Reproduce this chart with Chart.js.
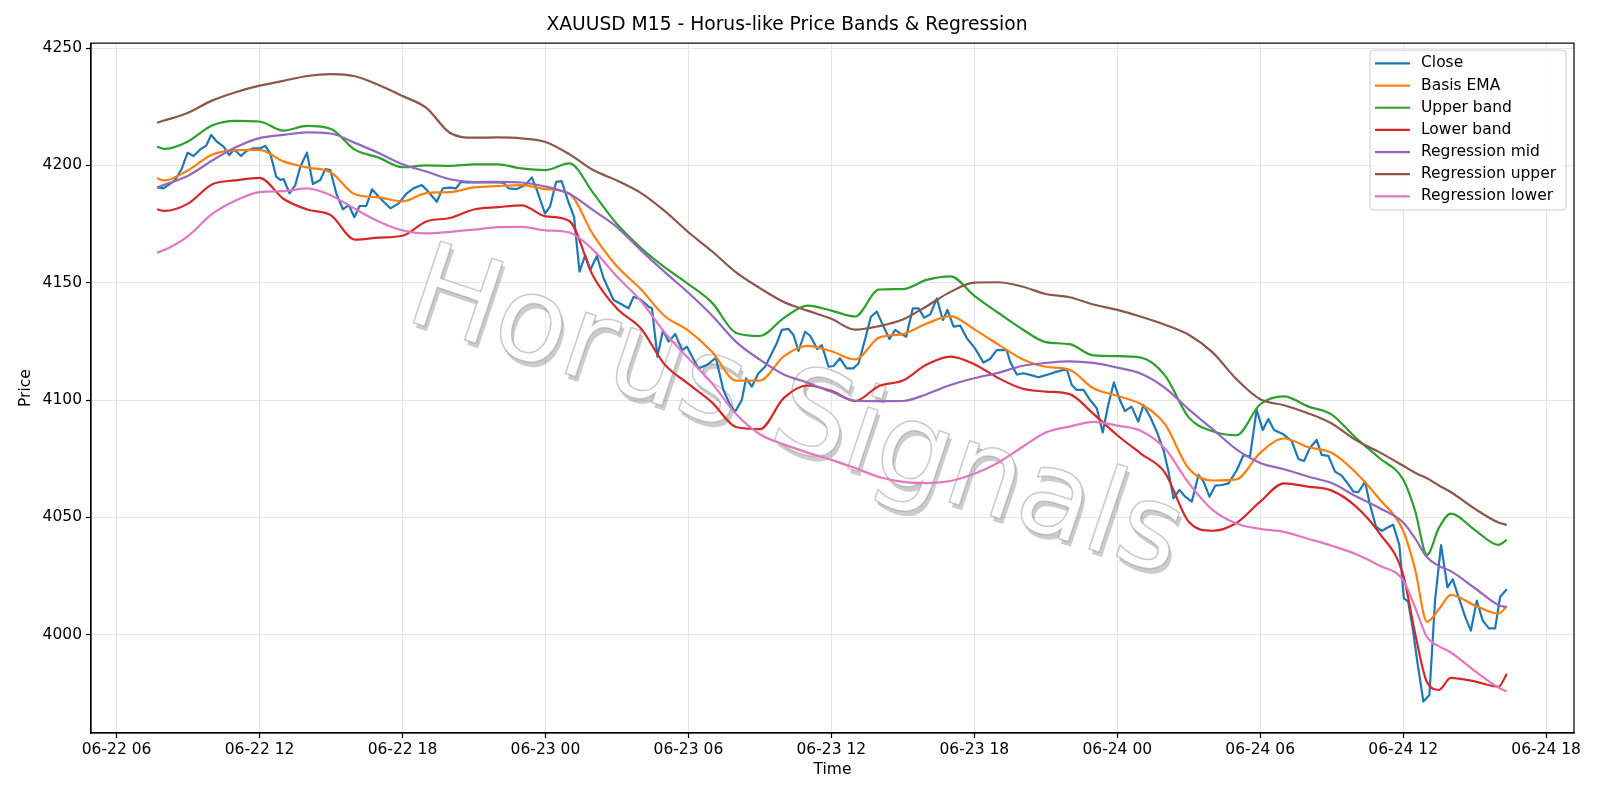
<!DOCTYPE html>
<html>
<head>
<meta charset="utf-8">
<title>XAUUSD M15</title>
<script src="https://cdn.jsdelivr.net/npm/chart.js@4.4.1/dist/chart.umd.min.js"></script>
<style>
  html, body { margin: 0; padding: 0; background: #fff; }
</style>
</head>
<body>
<canvas id="chart" width="1600" height="800"></canvas>
<script>
// all times are hours counted from 06-22 00:00
const bandHours = [7.7, 8, 9, 10, 11, 12, 13, 14, 15, 16, 17, 18, 19, 20, 21, 22, 23, 24, 25, 26, 27, 28, 29, 30,
	31, 32, 33, 34, 35, 36, 37, 38, 39, 40, 41, 42, 43, 44, 45, 46, 47, 48, 49, 50, 51, 52, 53, 54, 55, 56, 57, 58,
	59, 60, 60.5, 61, 61.5, 62, 63, 64, 64.35];

const basisEma = [4194.5, 4193.6, 4197.9, 4204.5, 4206.5, 4206.6, 4201.7, 4199.1, 4197.0, 4187.7, 4186.4, 4184.7,
	4188.2, 4188.6, 4190.6, 4191.2, 4191.6, 4189.9, 4188.0, 4170.5, 4157.0, 4147.3, 4135.8, 4129.6, 4120.5, 4108.3,
	4108.3, 4118.6, 4123.1, 4120.8, 4117.3, 4126.6, 4128.1, 4132.6, 4135.8, 4130.1, 4123.7, 4117.5, 4114.2, 4112.9,
	4105.0, 4101.8, 4098.2, 4089.7, 4070.8, 4065.7, 4066.2, 4077.5, 4083.6, 4080.0, 4077.5, 4069.2, 4057.8, 4044.3,
	4027.9, 4005.5, 4010.8, 4017.0, 4012.5, 4009.0, 4012.0];

const upperBand = [4208.0, 4207.0, 4210.2, 4217.0, 4219.0, 4218.7, 4214.8, 4216.8, 4215.5, 4206.7, 4203.3, 4199.2,
	4200.0, 4199.8, 4200.4, 4200.4, 4198.7, 4198.0, 4200.9, 4188.3, 4175.0, 4164.9, 4156.6, 4149.4, 4141.4, 4128.6,
	4127.3, 4134.9, 4140.2, 4138.1, 4135.6, 4147.1, 4147.3, 4151.2, 4152.7, 4144.4, 4137.2, 4130.3, 4124.7, 4123.8,
	4119.0, 4118.7, 4118.1, 4110.5, 4092.6, 4086.7, 4085.0, 4098.2, 4101.6, 4097.3, 4093.8, 4084.0, 4075.3, 4066.1,
	4052.8, 4034.0, 4045.5, 4051.6, 4044.7, 4038.3, 4040.4];

const lowerBand = [4181.3, 4180.6, 4183.7, 4191.9, 4193.6, 4194.7, 4185.8, 4181.2, 4178.7, 4168.4, 4169.2, 4170.0,
	4176.1, 4177.6, 4181.2, 4182.2, 4183.0, 4178.3, 4176.3, 4152.9, 4139.0, 4130.6, 4115.2, 4106.9, 4098.9, 4088.5,
	4087.6, 4100.8, 4106.2, 4103.9, 4099.6, 4106.0, 4108.3, 4115.1, 4118.5, 4115.3, 4109.4, 4104.9, 4103.6, 4102.5,
	4094.1, 4085.0, 4077.1, 4069.1, 4048.1, 4044.3, 4047.6, 4056.7, 4064.5, 4063.1, 4061.4, 4054.8, 4043.3, 4025.5,
	4000.6, 3979.8, 3976.5, 3981.6, 3980.1, 3977.8, 3983.3];

const regMid = [4190.6, 4191.7, 4195.6, 4202.0, 4207.7, 4211.6, 4213.0, 4214.1, 4213.6, 4209.6, 4205.3, 4200.5,
	4197.4, 4194.1, 4192.9, 4193.0, 4192.7, 4191.0, 4187.9, 4180.9, 4173.7, 4163.9, 4154.6, 4145.7, 4135.9, 4124.8,
	4117.2, 4110.9, 4107.4, 4103.5, 4099.7, 4099.5, 4099.6, 4102.5, 4106.4, 4109.3, 4111.6, 4114.5, 4115.8, 4116.5,
	4115.8, 4113.8, 4111.2, 4105.2, 4096.0, 4087.6, 4079.0, 4073.2, 4070.5, 4067.4, 4064.6, 4059.1, 4054.0, 4047.8,
	4041.0, 4033.0, 4029.3, 4027.1, 4019.9, 4012.6, 4011.7];

const regUpper = [4218.2, 4219.1, 4222.4, 4227.6, 4231.2, 4234.0, 4236.0, 4238.1, 4238.9, 4238.0, 4234.3, 4229.6,
	4224.5, 4213.8, 4211.8, 4211.9, 4211.5, 4210.0, 4204.8, 4198.0, 4193.6, 4188.3, 4180.6, 4171.5, 4163.3, 4154.4,
	4147.7, 4141.8, 4138.1, 4134.6, 4130.0, 4131.5, 4134.3, 4140.0, 4146.1, 4150.0, 4150.2, 4148.4, 4145.2, 4143.8,
	4140.7, 4138.4, 4135.5, 4132.1, 4127.8, 4120.3, 4108.9, 4100.3, 4097.8, 4094.4, 4090.0, 4083.0, 4077.8, 4072.0,
	4069.0, 4066.7, 4063.6, 4060.8, 4053.7, 4047.8, 4046.8];

const regLower = [4162.8, 4163.9, 4169.9, 4179.2, 4185.0, 4188.6, 4189.0, 4190.2, 4187.2, 4181.5, 4176.1, 4172.3,
	4171.0, 4171.7, 4172.6, 4173.7, 4173.8, 4172.3, 4171.4, 4164.0, 4152.6, 4142.3, 4128.8, 4117.8, 4107.0, 4094.0,
	4085.4, 4081.1, 4077.6, 4074.5, 4071.0, 4067.2, 4065.1, 4064.6, 4065.5, 4068.6, 4073.3, 4079.9, 4086.2, 4088.7,
	4090.7, 4089.1, 4086.8, 4079.3, 4064.6, 4053.2, 4047.4, 4045.1, 4043.8, 4040.9, 4037.9, 4034.4, 4029.5, 4023.2,
	4011.6, 3999.0, 3995.1, 3992.4, 3984.6, 3977.5, 3975.8];

const closeHours = [7.7, 7.97, 8.23, 8.46, 8.74, 8.98, 9.23, 9.51, 9.76, 9.97, 10.21, 10.49, 10.73, 10.94, 11.22,
	11.47, 11.75, 12.03, 12.24, 12.45, 12.7, 12.87, 13.01, 13.26, 13.5, 13.71, 13.99, 14.24, 14.55, 14.76, 14.97,
	15.22, 15.5, 15.74, 15.98, 16.2, 16.48, 16.72, 17.07, 17.49, 17.84, 18.18, 18.46, 18.81, 19.02, 19.44, 19.69,
	20.0, 20.25, 20.45, 20.7, 21.26, 21.96, 22.24, 22.45, 22.8, 23.15, 23.43, 23.64, 23.98, 24.19, 24.45, 24.68,
	24.96, 25.2, 25.43, 25.67, 25.88, 26.16, 26.44, 26.86, 27.15, 27.49, 27.7, 27.98, 28.33, 28.47, 28.7, 28.93,
	29.17, 29.45, 29.73, 29.94, 30.18, 30.42, 30.77, 31.15, 31.47, 31.75, 31.96, 32.24, 32.42, 32.66, 32.94, 33.22,
	33.5, 33.71, 33.92, 34.2, 34.41, 34.62, 34.9, 35.11, 35.41, 35.6, 35.88, 36.09, 36.36, 36.64, 36.92, 37.14,
	37.42, 37.66, 37.91, 38.19, 38.44, 38.68, 38.89, 39.14, 39.42, 39.66, 39.89, 40.15, 40.43, 40.68, 40.87, 41.13,
	41.41, 41.69, 42.03, 42.38, 42.66, 42.94, 43.36, 43.5, 43.78, 44.06, 44.34, 44.69, 45.04, 45.46, 45.88, 46.09,
	46.3, 46.58, 46.86, 47.14, 47.39, 47.62, 47.86, 48.11, 48.32, 48.6, 48.88, 49.1, 49.38, 49.66, 49.94, 50.15,
	50.36, 50.61, 50.85, 51.13, 51.41, 51.62, 51.87, 52.11, 52.39, 52.67, 53.02, 53.3, 53.57, 53.85, 54.11, 54.34,
	54.58, 54.97, 55.32, 55.6, 55.84, 56.09, 56.37, 56.58, 56.86, 57.14, 57.42, 57.7, 57.91, 58.12, 58.4, 58.61,
	58.86, 59.1, 59.33, 59.58, 59.84, 60.03, 60.21, 60.4, 60.6, 60.85, 61.1, 61.34, 61.59, 61.86, 62.08, 62.32,
	62.6, 62.84, 63.09, 63.34, 63.6, 63.86, 64.07, 64.35];

const closeValues = [4190.6, 4190.2, 4192.0, 4193.8, 4198.7, 4205.4, 4204.0, 4206.8, 4208.4, 4213.0, 4210.1, 4208.0,
	4204.4, 4206.8, 4204.0, 4206.3, 4207.3, 4207.3, 4208.3, 4205.1, 4195.2, 4193.8, 4194.2, 4188.1, 4191.6, 4199.4,
	4205.4, 4192.1, 4193.8, 4198.4, 4198.0, 4188.1, 4181.3, 4183.1, 4177.9, 4182.7, 4182.7, 4189.8, 4185.9, 4181.7,
	4183.8, 4188.1, 4190.2, 4191.6, 4189.5, 4184.5, 4190.2, 4190.5, 4190.2, 4193.0, 4192.8, 4192.8, 4192.8, 4192.6,
	4190.2, 4189.9, 4191.6, 4194.9, 4189.5, 4179.5, 4182.4, 4193.0, 4193.3, 4184.5, 4178.1, 4154.7, 4161.8, 4155.4,
	4161.4, 4151.9, 4142.6, 4141.0, 4139.1, 4144.0, 4142.9, 4139.8, 4139.1, 4118.5, 4129.6, 4124.9, 4128.1, 4121.3,
	4122.7, 4118.0, 4113.5, 4114.9, 4118.0, 4104.3, 4097.9, 4095.0, 4100.0, 4109.2, 4105.7, 4111.4, 4114.2, 4119.9,
	4124.2, 4129.9, 4130.3, 4127.7, 4120.9, 4129.1, 4127.4, 4121.7, 4123.4, 4114.2, 4114.5, 4117.8, 4113.5, 4113.5,
	4115.6, 4126.0, 4135.5, 4137.7, 4131.3, 4126.0, 4129.9, 4128.4, 4127.0, 4139.1, 4139.1, 4135.1, 4136.5, 4143.3,
	4134.1, 4138.4, 4131.3, 4131.7, 4126.3, 4122.0, 4116.0, 4117.5, 4121.3, 4121.3, 4116.4, 4110.9, 4111.4, 4110.7,
	4109.7, 4110.7, 4112.1, 4113.2, 4106.4, 4104.3, 4104.3, 4100.0, 4096.5, 4086.2, 4097.9, 4107.5, 4100.0, 4095.3,
	4097.2, 4090.8, 4097.9, 4092.9, 4086.5, 4078.7, 4069.5, 4058.1, 4061.7, 4058.8, 4056.7, 4068.1, 4065.2, 4058.8,
	4063.5, 4063.8, 4064.5, 4070.2, 4076.6, 4075.9, 4095.8, 4087.2, 4091.9, 4087.2, 4085.4, 4082.6, 4074.9, 4074.0,
	4079.7, 4083.0, 4076.6, 4076.2, 4069.5, 4067.8, 4064.1, 4061.0, 4060.7, 4065.2, 4055.3, 4046.0, 4044.2, 4045.6,
	4046.8, 4038.2, 4015.5, 4014.1, 4002.7, 3988.0, 3971.5, 3974.3, 4014.8, 4038.2, 4020.2, 4023.6, 4016.2, 4007.7,
	4001.7, 4014.5, 4006.0, 4002.7, 4002.7, 4016.2, 4019.4];

const xTickHours = [6, 12, 18, 24, 30, 36, 42, 48, 54, 60, 66];
const xTickLabels = ['06-22 06', '06-22 12', '06-22 18', '06-23 00', '06-23 06', '06-23 12',
	'06-23 18', '06-24 00', '06-24 06', '06-24 12', '06-24 18'];
const yTicks = [4000, 4050, 4100, 4150, 4200, 4250];

function pairs(xs, ys) {
	return xs.map((x, i) => ({x: x, y: ys[i]}));
}

Chart.defaults.font.family = '"DejaVu Sans", sans-serif';
Chart.defaults.color = '#000';

// big tilted text behind the lines
const watermark = {
	id: 'watermark',
	beforeDatasetsDraw(chart) {
		const ctx = chart.ctx;
		const a = chart.chartArea;
		ctx.save();
		ctx.beginPath();
		ctx.rect(a.left, a.top, a.right - a.left, a.bottom - a.top);
		ctx.clip();
		ctx.translate(795, 418);
		ctx.rotate(18.5 * Math.PI / 180);
		ctx.font = '118px "DejaVu Sans"';
		ctx.textAlign = 'center';
		ctx.textBaseline = 'middle';
		ctx.fillStyle = 'rgba(0, 0, 0, 0.2)';
		ctx.fillText('Horus Signals', 4, 4);
		ctx.fillStyle = '#fff';
		ctx.fillText('Horus Signals', 0, 0);
		ctx.strokeStyle = 'rgba(150, 150, 150, 0.5)';
		ctx.lineWidth = 1.5;
		ctx.strokeText('Horus Signals', 0, 0);
		ctx.restore();
	}
};

// box around the plot, like matplotlib spines
const frame = {
	id: 'frame',
	afterDatasetsDraw(chart) {
		const ctx = chart.ctx;
		const a = chart.chartArea;
		ctx.save();
		ctx.strokeStyle = '#000';
		ctx.lineWidth = 1.2;
		ctx.strokeRect(a.left, a.top, a.right - a.left, a.bottom - a.top);
		ctx.restore();
	}
};

// legend inside the upper right corner
const legendBox = {
	id: 'legendBox',
	afterDraw(chart) {
		const ctx = chart.ctx;
		const a = chart.chartArea;
		const right = a.right - 8;
		const left = right - 196;
		const top = a.top + 7;
		const h = 160;
		const r = 4;
		ctx.save();
		ctx.beginPath();
		ctx.moveTo(left + r, top);
		ctx.arcTo(right, top, right, top + h, r);
		ctx.arcTo(right, top + h, left, top + h, r);
		ctx.arcTo(left, top + h, left, top, r);
		ctx.arcTo(left, top, right, top, r);
		ctx.closePath();
		ctx.fillStyle = 'rgba(255, 255, 255, 0.8)';
		ctx.fill();
		ctx.strokeStyle = '#cccccc';
		ctx.lineWidth = 1;
		ctx.stroke();
		ctx.font = '15.5px "DejaVu Sans"';
		ctx.textBaseline = 'middle';
		ctx.textAlign = 'left';
		chart.data.datasets.forEach((ds, i) => {
			const y = top + 13.3 + i * 22.15;
			ctx.strokeStyle = ds.borderColor;
			ctx.lineWidth = 2.2;
			ctx.beginPath();
			ctx.moveTo(left + 5, y);
			ctx.lineTo(left + 40, y);
			ctx.stroke();
			ctx.fillStyle = '#000';
			ctx.fillText(ds.label, left + 51, y);
		});
		ctx.restore();
	}
};

const lineBase = {
	borderWidth: 2.2,
	pointRadius: 0,
	pointHoverRadius: 0,
	fill: false,
	tension: 0,
	borderJoinStyle: 'round'
};
// bands are smooth curves, so draw them through the read points with a monotone spline
const bandBase = {...lineBase, cubicInterpolationMode: 'monotone'};

new Chart(document.getElementById('chart'), {
	type: 'line',
	data: {
		datasets: [
			{...lineBase, label: 'Close', data: pairs(closeHours, closeValues), borderColor: '#1f77b4', order: 7},
			{...bandBase, label: 'Basis EMA', data: pairs(bandHours, basisEma), borderColor: '#ff7f0e', order: 6},
			{...bandBase, label: 'Upper band', data: pairs(bandHours, upperBand), borderColor: '#2ca02c', order: 5},
			{...bandBase, label: 'Lower band', data: pairs(bandHours, lowerBand), borderColor: '#d62728', order: 4},
			{...bandBase, label: 'Regression mid', data: pairs(bandHours, regMid), borderColor: '#9467bd', order: 3},
			{...bandBase, label: 'Regression upper', data: pairs(bandHours, regUpper), borderColor: '#8c564b', order: 2},
			{...bandBase, label: 'Regression lower', data: pairs(bandHours, regLower), borderColor: '#e377c2', order: 1}
		]
	},
	options: {
		responsive: false,
		animation: false,
		devicePixelRatio: 1,
		events: [],
		layout: {padding: {left: 0, right: 26, top: 0, bottom: 0}},
		plugins: {
			legend: {display: false},
			tooltip: {enabled: false},
			title: {
				display: true,
				text: 'XAUUSD M15 - Horus-like Price Bands & Regression',
				color: '#000',
				font: {size: 18.7, weight: 'normal', lineHeight: 1.2},
				padding: {top: 14.3, bottom: 6.4}
			}
		},
		scales: {
			x: {
				type: 'linear',
				min: 4.926,
				max: 67.17,
				afterBuildTicks: (s) => { s.ticks = xTickHours.map(v => ({value: v})); },
				afterFit: (s) => { s.height = 67; },
				ticks: {
					callback: (v, i) => xTickLabels[i],
					color: '#000',
					font: {size: 15.5},
					padding: 3,
					maxRotation: 0,
					autoSkip: false
				},
				grid: {color: '#e6e6e6', lineWidth: 1, tickColor: '#000', tickLength: 5, tickWidth: 1.2},
				border: {color: '#000', width: 1.2},
				title: {display: true, text: 'Time', color: '#000', font: {size: 15.5, lineHeight: 1.2}, padding: {top: 0, bottom: 20.7}}
			},
			y: {
				min: 3958.1,
				max: 4252.1,
				afterBuildTicks: (s) => { s.ticks = yTicks.map(v => ({value: v})); },
				afterFit: (s) => { s.width = 91; },
				ticks: {callback: (v) => String(v), color: '#000', font: {size: 15.5}, padding: 4},
				grid: {color: '#e6e6e6', lineWidth: 1, tickColor: '#000', tickLength: 5, tickWidth: 1.2},
				border: {color: '#000', width: 1.2},
				title: {display: true, text: 'Price', color: '#000', font: {size: 15.5, lineHeight: 1.2}, padding: {top: 16.2, bottom: 0}}
			}
		}
	},
	plugins: [watermark, frame, legendBox]
});
</script>
</body>
</html>
